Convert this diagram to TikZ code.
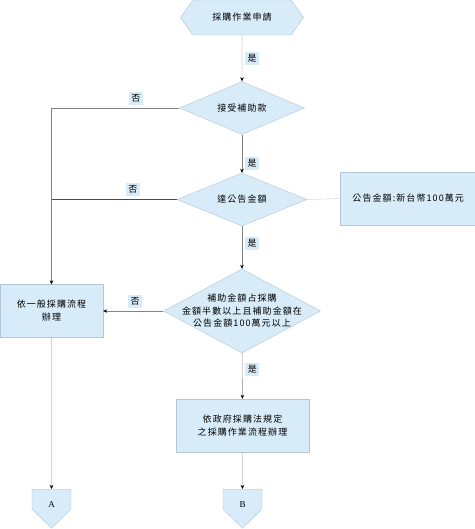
\documentclass[tikz,border=0pt]{standalone}
\usepackage{fontspec}
\setmainfont[LetterSpace=12]{Noto Sans CJK TC}
\newfontfamily\latinserif{Liberation Serif}
\usetikzlibrary{arrows,arrows.meta,positioning,shapes}
\usepackage{xcolor}
\definecolor{boxblue}{RGB}{215,235,248}
\definecolor{boxline}{RGB}{178,198,214}
\definecolor{flowgray}{RGB}{130,130,130}
\definecolor{flowdark}{RGB}{75,75,75}
\definecolor{flowlight}{RGB}{205,205,205}

\tikzset{
  base/.style={draw=boxline, fill=boxblue, align=center, inner sep=0pt,
    font=\fontsize{9}{13}\selectfont},
  proc/.style={base, rectangle, minimum height=53},
  decide/.style={base, diamond, aspect=2.4},
  hexa/.style={base, signal, signal to=east and west, signal pointer angle=110},
  offpage/.style={base, signal, signal to=south, signal pointer angle=92,
    minimum width=39, text height=18.5pt, text depth=1.5pt, anchor=north,
    font=\latinserif\small},
  lab/.style={fill=boxblue, inner sep=2.5pt, font=\fontsize{9}{9}\selectfont},
  flow/.style={draw=flowgray, -{Stealth[length=4pt,width=3.5pt,black]}},
}

\begin{document}
\begin{tikzpicture}[x=1pt,y=-1pt]
    \useasboundingbox (0,0) rectangle (474,529);
    % boxes
    \node[hexa, minimum width=123, minimum height=35] (start) at (242,17.5) {採購作業申請};
    \node[decide, minimum width=125, minimum height=53] (subsidy) at (242,108) {接受補助款};
    \node[decide, minimum width=130, minimum height=53] (notice) at (242,199.5) {達公告金額};
    \node[base, anchor=west, minimum width=136, minimum height=53] (amount) at (340,198.5) {公告金額:新台幣100萬元};
    \node[decide, minimum width=157, minimum height=84] (half) at (242,311) {};
    \node[align=center, font=\fontsize{9}{12.5}\selectfont] at (half) {補助金額占採購\\金額半數以上且補助金額在\\公告金額100萬元以上};
    \node[proc, minimum width=103] (general) at (51.5,311) {依一般採購流程\\辦理};
    \node[proc, minimum width=133] (gov) at (242.5,425.5) {依政府採購法規定\\之採購作業流程辦理};
    \node[offpage] (A) at (51.5,489) {A};
    \node[offpage] (B) at (242.5,489) {B};
    % connectors
    \draw[flow] (start) -- node[lab, right=3pt] {是} (subsidy);
    \draw[flow] (subsidy.west) -| node[lab, pos=.17, above=3pt] {否} (general.north);
    \draw[flow] (subsidy) -- node[lab, pos=.75, right=3pt] {是} (notice);
    \draw[draw=flowdark, semithick] (notice.west) -- node[lab, pos=.35, above=3pt] {否} (notice.west -| general.north);
    \draw[draw=flowlight] (notice.east) -- (amount.west);
    \draw[flow] (notice) -- node[lab, pos=.4, right=3pt] {是} (half);
    \draw[flow] (half.west) -- node[lab, pos=.47, above=3pt] {否} (general.east);
    \draw[flow] (half) -- node[lab, pos=.35, right=3pt] {是} (gov);
    \draw[flow] (general) -- (A);
    \draw[flow] (gov) -- (B);
\end{tikzpicture}
\end{document}
